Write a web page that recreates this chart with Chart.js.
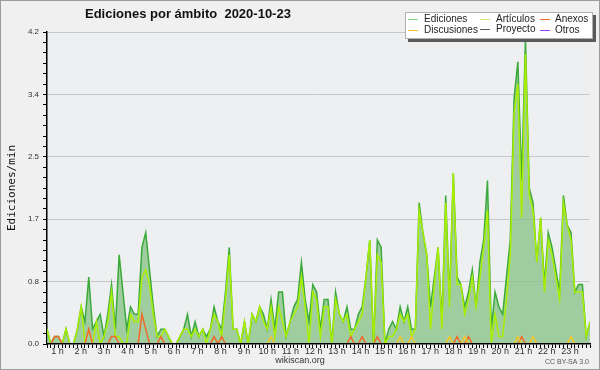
<!DOCTYPE html>
<html>
<head>
<meta charset="utf-8">
<script src="https://cdn.jsdelivr.net/npm/chart.js@4.4.1/dist/chart.umd.min.js"></script>
<style>
html,body{margin:0;padding:0;background:#f0f0f0;}
#wrap{width:600px;height:370px;}
</style>
</head>
<body>
<div id="wrap"><canvas id="c" width="600" height="370"></canvas></div>
<script>
// 10-minute bins over the day (0 = 00:00 ... 143 = 23:50)
const slots = [
  0,1,2,3,4,5,6,7,8,9,10,11,12,13,14,15,16,17,18,19,20,21,22,23,
  24,25,26,27,28,29,30,31,32,33,34,35,36,37,38,39,40,41,42,43,44,45,46,47,
  48,49,50,51,52,53,54,55,56,57,58,59,60,61,62,63,64,65,66,67,68,69,70,71,
  72,73,74,75,76,77,78,79,80,81,82,83,84,85,86,87,88,89,90,91,92,93,94,95,
  96,97,98,99,100,101,102,103,104,105,106,107,108,109,110,111,112,113,114,115,116,117,118,119,
  120,121,122,123,124,125,126,127,128,129,130,131,132,133,134,135,136,137,138,139,140,141,142,143
];
const hours = [1,2,3,4,5,6,7,8,9,10,11,12,13,14,15,16,17,18,19,20,21,22,23];
const yTicks = [0,0.14,0.28,0.42,0.56,0.7,0.84,0.98,1.12,1.26,1.4,1.54,1.68,1.82,1.96,2.1,
  2.24,2.38,2.52,2.66,2.8,2.94,3.08,3.22,3.36,3.5,3.64,3.78,3.92,4.06,4.2];

const ediciones = [
  0.2,0,0.1,0.1,0,0.2,0,0,0.2,0.5,0.3,0.9,
  0.2,0.3,0.4,0.1,0.4,0.8,0.2,1.2,0.7,0.2,0.5,0.4,
  0.4,1.3,1.5,1.0,0.5,0.1,0.2,0.2,0.1,0,0,0.1,
  0.2,0.4,0.1,0.3,0.1,0.2,0.1,0.2,0.5,0.3,0.2,0.7,
  1.3,0.2,0.2,0,0.3,0,0.4,0.3,0.5,0.4,0.2,0.6,
  0.2,0.7,0.7,0.1,0.3,0.5,0.6,1.1,0.6,0.3,0.8,0.7,
  0.2,0.6,0.6,0,0.7,0.4,0.3,0.5,0.2,0.2,0.4,0.5,
  0.9,1.4,0,1.4,1.3,0,0.2,0.3,0.2,0.5,0.3,0.5,
  0.2,0.2,1.9,1.5,1.2,0.5,0.9,1.3,0.3,2.0,0.6,2.3,
  0.9,0.8,0.5,0.7,1.0,0.5,1.1,1.4,2.2,0.2,0.7,0.5,
  0.4,0.9,1.4,3.3,3.8,2.2,4.1,2.1,1.9,1.1,1.7,0.8,
  1.5,1.3,1.0,0.7,2.0,1.6,1.5,0.7,0.8,0.8,0.1,0.3
];
const articulos = [
  0.2,0,0,0,0,0.2,0,0,0.2,0.5,0,0,
  0,0.3,0,0.1,0.3,0.7,0.1,0.1,0,0,0.4,0.3,
  0.3,0.9,1.0,0.8,0.4,0.1,0.1,0.2,0.1,0,0,0.1,
  0.2,0.2,0.1,0.2,0.1,0.2,0,0.2,0.4,0.3,0.1,0.6,
  1.2,0.2,0.2,0,0.3,0,0.4,0.3,0.5,0.3,0.2,0.5,
  0.1,0.5,0.3,0.1,0.3,0.4,0.5,0.9,0.5,0,0.7,0.6,
  0.1,0.5,0.5,0,0.6,0.4,0.3,0.4,0.1,0.2,0.3,0.4,
  0.9,1.4,0,1.2,1.1,0,0.1,0.1,0.2,0.4,0.3,0.4,
  0.1,0.2,1.8,1.5,1.2,0.2,0.8,1.3,0.2,1.9,0.5,2.3,
  0.8,0.8,0.4,0.6,0.9,0.5,0.9,1.3,1.8,0,0.4,0.1,
  0.1,0.6,1.2,3.1,3.5,1.7,3.9,2.0,1.8,1.1,1.7,0.7,
  1.4,1.2,0.9,0.6,1.9,1.6,1.4,0.7,0.7,0.7,0.1,0.3
];
const anexos = [
  0,0,0.1,0.1,0,0,0,0,0,0,0,0.2,
  0,0,0,0,0,0.1,0.1,0,0,0,0,0,
  0,0.4,0.2,0,0,0,0.1,0,0,0,0,0,
  0,0,0,0,0,0,0,0,0.1,0,0.1,0,
  0,0,0,0,0,0,0,0,0,0,0,0,
  0,0,0,0,0,0,0,0,0,0,0,0,
  0,0,0,0,0,0,0,0,0.1,0,0,0.1,
  0,0,0,0.1,0,0,0,0,0,0,0,0,
  0,0,0,0,0,0,0,0,0,0,0,0,
  0.1,0,0,0.1,0,0,0,0,0,0,0,0,
  0,0,0,0,0,0.1,0,0,0,0,0,0,
  0,0,0,0,0,0,0,0,0,0,0,0
];
const discusiones = [
  0,0,0,0,0,0,0,0,0,0,0,0,
  0,0,0,0,0,0,0,0,0,0,0,0,
  0,0,0,0,0,0,0,0,0,0,0,0,
  0,0,0,0,0,0,0,0,0,0,0,0,
  0,0,0,0,0,0,0,0,0,0,0,0.1,
  0,0,0,0,0,0,0,0,0,0,0,0,
  0,0,0,0,0,0,0,0,0,0,0,0,
  0,0,0,0,0,0,0,0,0,0.1,0,0,
  0.1,0,0,0,0,0,0,0,0,0,0.1,0,
  0,0,0.1,0,0,0,0,0,0,0,0,0,
  0,0,0,0,0.1,0,0,0,0.1,0,0,0,
  0,0,0,0,0,0,0.1,0,0,0,0,0
];
const proyecto = [
  0,0,0,0,0,0,0,0,0,0,0,0, 0,0,0,0,0,0,0,0,0,0,0,0,
  0,0,0,0,0,0,0,0,0,0,0,0, 0,0,0,0,0,0,0,0,0,0,0,0,
  0,0,0,0,0,0,0,0,0,0,0,0, 0,0,0,0,0,0,0,0,0,0,0,0,
  0,0,0,0,0,0,0,0,0,0,0,0, 0,0,0,0,0,0,0,0,0,0,0,0,
  0,0,0,0,0,0,0,0,0,0,0,0, 0,0,0,0,0,0,0,0,0,0,0,0,
  0,0,0,0,0,0,0,0,0,0,0,0, 0,0,0,0,0,0,0,0,0,0,0,0
];
const otros = [
  0,0,0,0,0,0,0,0,0,0,0,0, 0,0,0,0,0,0,0,0,0,0,0,0,
  0,0,0,0,0,0,0,0,0,0,0,0, 0,0,0,0,0,0,0,0,0,0,0,0,
  0,0,0,0,0,0,0,0,0,0,0,0, 0,0,0,0,0,0,0,0,0,0,0,0,
  0,0,0,0,0,0,0,0,0,0,0,0, 0,0,0,0,0,0,0,0,0,0,0,0,
  0,0,0,0,0,0,0,0,0,0,0,0, 0,0,0,0,0,0,0,0,0,0,0,0,
  0,0,0,0,0,0,0,0,0,0,0,0, 0,0,0,0,0,0,0,0,0,0,0,0
];

const C = {
  edi:'#3aaa3a', ediFill:'rgba(140,196,140,0.8)', art:'#aaee00', anx:'#f06a2a',
  dis:'#f2c629', pro:'#555555', otr:'#9a40f0'
};

const ln = (label, data, color, order, extra) => Object.assign({
  label, data, borderColor:color, backgroundColor:color, borderWidth:1.5,
  pointRadius:0, tension:0, fill:false, order, clip:{left:0, top:4, right:0, bottom:-1}
}, extra || {});

const deco = {
  id:'deco',
  beforeDraw(chart){
    const { ctx, chartArea:a } = chart;
    ctx.save();
    ctx.fillStyle = '#f0f0f0'; ctx.fillRect(0, 0, chart.width, chart.height);
    ctx.fillStyle = '#eeeff1'; ctx.fillRect(a.left, a.top, a.right - a.left, a.bottom - a.top);
    ctx.restore();
  },
  afterDraw(chart){
    const ctx = chart.ctx;
    ctx.save();
    // title
    ctx.fillStyle = '#111';
    ctx.font = 'bold 13px "Liberation Sans"';
    ctx.textBaseline = 'middle';
    ctx.fillText('Ediciones por ámbito  2020-10-23', 85, 14);
    // legend box
    ctx.fillStyle = '#5a5a5a'; ctx.fillRect(408, 15, 188, 27);
    ctx.fillStyle = '#ffffff'; ctx.fillRect(405, 12, 188, 27);
    ctx.strokeStyle = '#b0b0b0'; ctx.lineWidth = 1; ctx.strokeRect(405.5, 12.5, 187, 26);
    const items = [
      ['Ediciones', '#80d080', 408, 424, 19], ['Artículos', '#ccee66', 480, 496, 19], ['Anexos', C.anx, 540, 555, 19],
      ['Discusiones', C.dis, 408, 424, 30], ['Proyecto', C.pro, 480, 496, 29], ['Otros', C.otr, 540, 555, 30]
    ];
    ctx.font = '10px "Liberation Sans"';
    items.forEach(([t, col, mx, tx, y]) => {
      ctx.strokeStyle = col; ctx.lineWidth = 1;
      ctx.beginPath(); ctx.moveTo(mx, y + 0.5); ctx.lineTo(mx + 10, y + 0.5); ctx.stroke();
      ctx.fillStyle = '#222'; ctx.fillText(t, tx, y);
    });
    // footer
    ctx.fillStyle = '#333'; ctx.font = '9px "Liberation Sans"'; ctx.textAlign = 'center';
    ctx.fillText('wikiscan.org', 300, 361);
    ctx.fillStyle = '#555'; ctx.font = '7px "Liberation Sans"'; ctx.textAlign = 'right';
    ctx.fillText('CC BY-SA 3.0', 589, 362);
    // frame
    ctx.strokeStyle = '#9c9c9c'; ctx.lineWidth = 1; ctx.strokeRect(0.5, 0.5, 599, 369);
    ctx.restore();
  }
};

new Chart(document.getElementById('c'), {
  type:'line',
  data:{
    labels: slots,
    datasets:[
      ln('Ediciones', ediciones, C.edi, 6, { fill:'origin', backgroundColor:C.ediFill }),
      ln('Artículos', articulos, C.art, 5),
      ln('Anexos', anexos, C.anx, 4),
      ln('Discusiones', discusiones, C.dis, 3),
      ln('Proyecto', proyecto, C.pro, 2),
      ln('Otros', otros, C.otr, 1)
    ]
  },
  options:{
    responsive:false, animation:false,
    layout:{ padding:{ left:0, right:10, top:32, bottom:0 } },
    plugins:{ legend:{ display:false }, title:{ display:false }, tooltip:{ enabled:false } },
    scales:{
      x:{
        type:'linear', min:0, max:143, weight:0,
        afterBuildTicks: ax => { ax.ticks = slots.map(v => ({ value:v })); },
        afterFit: ax => { ax.height = 4; },
        ticks:{ autoSkip:false, maxRotation:0, padding:0, callback:() => '' },
        grid:{ drawOnChartArea:false, tickLength:4, color:'#000', tickColor:'#000' },
        border:{ color:'#000', width:1.5 }
      },
      xh:{
        type:'linear', position:'bottom', weight:1, min:0.549, max:23.854,
        afterBuildTicks: ax => { ax.ticks = hours.map(h => ({ value:h })); },
        afterFit: ax => { ax.height = 22; },
        ticks:{ autoSkip:false, maxRotation:0, padding:-2, color:'#333',
          font:{ family:'Liberation Sans', size:9 }, callback: v => v + ' h' },
        grid:{ display:false, drawTicks:false },
        border:{ display:false }
      },
      y:{
        min:0, max:4.2,
        afterBuildTicks: ax => { ax.ticks = yTicks.map(v => ({ value:v })); },
        afterFit: ax => { ax.width = 47; },
        ticks:{ autoSkip:false, padding:4, color:'#333', font:{ family:'Liberation Sans', size:8 },
          callback:(v, i) => i % 6 === 0 ? v.toFixed(1) : '' },
        grid:{ tickLength:4, tickColor:'#000',
          color: c => (c.index % 6 === 0 && c.index > 0) ? '#c8c8c8' : 'rgba(0,0,0,0)' },
        border:{ color:'#000', width:1.5 },
        title:{ display:true, text:'Ediciones/min', color:'#111',
          font:{ family:'DejaVu Sans Mono', size:11 }, padding:{ top:6, bottom:0 } }
      }
    }
  },
  plugins:[deco]
});
</script>
</body>
</html>
